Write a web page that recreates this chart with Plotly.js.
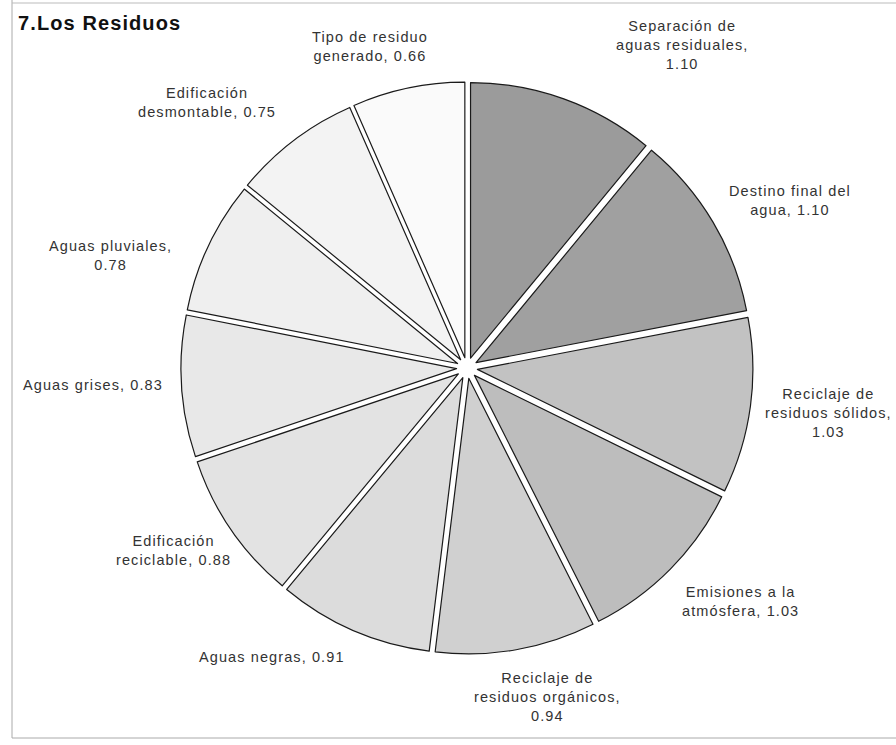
<!DOCTYPE html>
<html>
<head>
<meta charset="utf-8">
<script src="https://cdn.plot.ly/plotly-3.0.1.min.js"></script>
<style>
html,body{margin:0;padding:0;background:#fff;}
#chart{width:896px;height:745px;}
.annotation-text{letter-spacing:1.1px;}
</style>
</head>
<body>
<div id="chart"></div>
<script>
// ---- data ----
const categories = [
  "Separación de aguas residuales",
  "Destino final del agua",
  "Reciclaje de residuos sólidos",
  "Emisiones a la atmósfera",
  "Reciclaje de residuos orgánicos",
  "Aguas negras",
  "Edificación reciclable",
  "Aguas grises",
  "Aguas pluviales",
  "Edificación desmontable",
  "Tipo de residuo generado"
];
const values = [1.10, 1.10, 1.03, 1.03, 0.94, 0.91, 0.88, 0.83, 0.78, 0.75, 0.66];
const displayNames = [
  "Separación de<br>aguas residuales",
  "Destino final del<br>agua",
  "Reciclaje de<br>residuos sólidos",
  "Emisiones a la<br>atmósfera",
  "Reciclaje de<br>residuos orgánicos",
  "Aguas negras",
  "Edificación<br>reciclable",
  "Aguas grises",
  "Aguas pluviales",
  "Edificación<br>desmontable",
  "Tipo de residuo<br>generado"
];
const valueSeparators = [",<br>", ", ", ",<br>", ", ", ",<br>", ", ", ", ", ", ", ",<br>", ", ", ", "];
const chartTitle = "7.Los Residuos";

// ---- styles / layout ----
const sliceColors = ["#9b9b9b", "#a0a0a0", "#c2c2c2", "#bdbdbd", "#d0d0d0",
                     "#dcdcdc", "#e3e3e3", "#e8e8e8", "#efefef", "#f3f3f3", "#fafafa"];
// label anchor positions in pixels (x, y center)
const labelPos = [
  [682, 45], [790, 200], [828, 413], [740, 601], [547, 697],
  [272, 657], [173, 550], [93, 385], [110, 255], [207, 103], [370, 46]
];
const W = 896, H = 745;
const px = x => x / W, py = y => 1 - y / H;

const annotations = categories.map((c, i) => ({
  xref: "paper", yref: "paper",
  x: px(labelPos[i][0]), y: py(labelPos[i][1]),
  xanchor: "center", yanchor: "middle",
  text: displayNames[i] + valueSeparators[i] + values[i].toFixed(2),
  showarrow: false, align: "center",
  font: {family: "Liberation Sans, Arial, sans-serif", size: 14.5, color: "#333"}
}));
annotations.push({
  xref: "paper", yref: "paper", x: px(16), y: py(23),
  xanchor: "left", yanchor: "middle", showarrow: false,
  text: "<b>" + chartTitle + "</b>",
  font: {family: "Liberation Sans, Arial, sans-serif", size: 20, color: "#111"}
});

const cx = 467, cy = 368, Rd = 286, pull = 0.038;

const trace = {
  type: "pie",
  labels: categories,
  values: values,
  sort: false,
  direction: "clockwise",
  rotation: 0,
  pull: values.map(() => pull),
  textinfo: "none",
  hoverinfo: "label+value",
  marker: {colors: sliceColors, line: {color: "#1a1a1a", width: 1.2}},
  domain: {x: [(cx - Rd) / W, (cx + Rd) / W], y: [(H - cy - Rd) / H, (H - cy + Rd) / H]},
  showlegend: false
};

const layout = {
  width: W, height: H,
  margin: {l: 0, r: 0, t: 0, b: 0},
  paper_bgcolor: "#fff",
  showlegend: false,
  annotations: annotations,
  shapes: [
    {type: "line", xref: "paper", yref: "paper", x0: px(12), x1: px(12), y0: py(0), y1: py(738), line: {color: "#aaa", width: 1}},
    {type: "line", xref: "paper", yref: "paper", x0: px(12), x1: px(896), y0: py(738), y1: py(738), line: {color: "#aaa", width: 1}},
    {type: "line", xref: "paper", yref: "paper", x0: px(12), x1: px(896), y0: py(3), y1: py(3), line: {color: "#bbb", width: 1}}
  ]
};

Plotly.newPlot("chart", [trace], layout, {displayModeBar: false, staticPlot: true});
</script>
</body>
</html>
